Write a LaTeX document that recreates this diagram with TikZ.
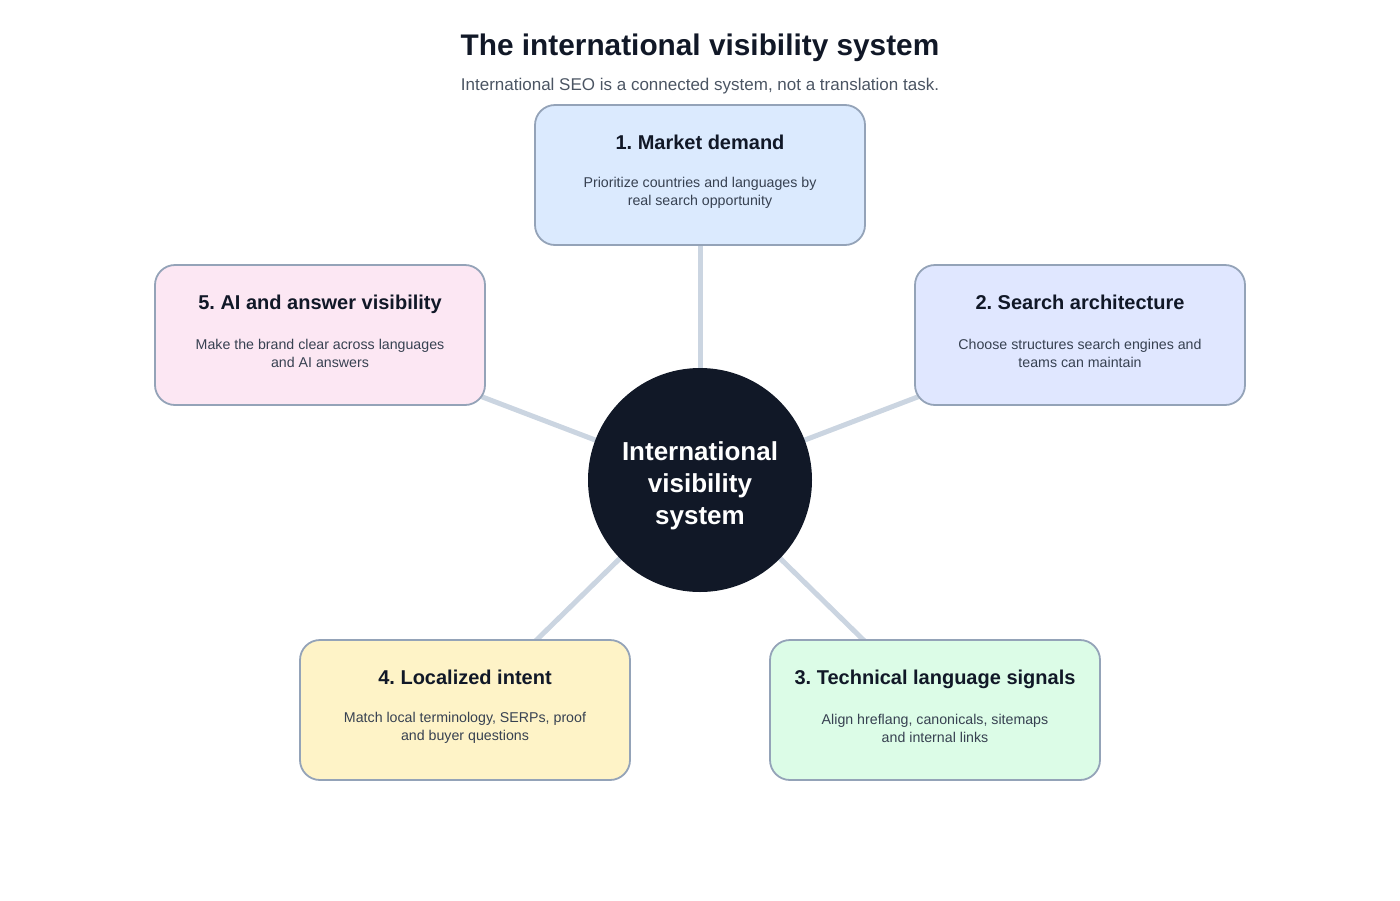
\documentclass[tikz,border=0pt]{standalone}
\usepackage{fontspec}
\setmainfont{Liberation Sans}
\usetikzlibrary{positioning,backgrounds}
\frenchspacing

\definecolor{ink}{HTML}{111827}
\definecolor{subtle}{HTML}{4B5563}
\definecolor{bodytext}{HTML}{374151}
\definecolor{edge}{HTML}{94A3B8}
\definecolor{spoke}{HTML}{CBD5E1}
\definecolor{demandfill}{HTML}{DBEAFE}
\definecolor{archfill}{HTML}{E0E7FF}
\definecolor{techfill}{HTML}{DCFCE7}
\definecolor{intentfill}{HTML}{FEF3C7}
\definecolor{aifill}{HTML}{FCE7F3}

\begin{document}
\begin{tikzpicture}[
		x=1pt,y=-1pt,
		card/.style={rectangle,draw=edge,line width=1.8pt,rounded corners=20pt,minimum width=330pt,minimum height=140pt,inner sep=0pt},
		cardtitle/.style={anchor=base,font=\fontsize{20}{24}\selectfont\bfseries,text=ink,inner sep=0pt},
		cardbody/.style={font=\fontsize{14.2}{18}\selectfont,text=bodytext,align=center,inner sep=0pt},
		hubnode/.style={circle,fill=ink,minimum size=224pt,inner sep=0pt},
		link/.style={draw=spoke,line width=5pt}
		]
		
		\useasboundingbox (0,0) rectangle (1400,900);
		
		\node [font=\fontsize{29.8}{34}\selectfont\bfseries,text=ink] (title) at (700,48) {The international visibility system};
		\node [font=\fontsize{17}{20}\selectfont,text=subtle] (subtitle) at (700,86) {International SEO is a connected system, not a translation task.};
		
		\node [hubnode] (hub) at (700,480) {};
		\node [align=center,text=white,font=\fontsize{26}{32}\selectfont\bfseries] (hub text) at (700,486) {International\\visibility\\system};
		
		\node [card,fill=demandfill] (demand) at (700,175) {};
		\node [card,fill=archfill] (arch) at (1080,335) {};
		\node [card,fill=techfill] (tech) at (935,710) {};
		\node [card,fill=intentfill] (intent) at (465,710) {};
		\node [card,fill=aifill] (ai) at (320,335) {};
		
		\node [cardtitle] at ([yshift=-45pt]demand.north) {1. Market demand};
		\node [cardbody] at ([yshift=-89pt]demand.north) {Prioritize countries and languages by\\real search opportunity};
		\node [cardtitle] at ([yshift=-45pt]arch.north) {2. Search architecture};
		\node [cardbody] at ([yshift=-89pt]arch.north) {Choose structures search engines and\\teams can maintain};
		\node [cardtitle] at ([yshift=-45pt]tech.north) {3. Technical language signals};
		\node [cardbody] at ([yshift=-89pt]tech.north) {Align hreflang, canonicals, sitemaps\\and internal links};
		\node [cardtitle] at ([yshift=-45pt]intent.north) {4. Localized intent};
		\node [cardbody] at ([yshift=-89pt]intent.north) {Match local terminology, SERPs, proof\\and buyer questions};
		\node [cardtitle] at ([yshift=-45pt]ai.north) {5. AI and answer visibility};
		\node [cardbody] at ([yshift=-89pt]ai.north) {Make the brand clear across languages\\and AI answers};
		
		\begin{scope}[on background layer]
			\path [link] (hub.center) -- (demand.center);
			\path [link] (hub.center) -- (arch.center);
			\path [link] (hub.center) -- (tech.center);
			\path [link] (hub.center) -- (intent.center);
			\path [link] (hub.center) -- (ai.center);
		\end{scope}
		
	\end{tikzpicture}
\end{document}
